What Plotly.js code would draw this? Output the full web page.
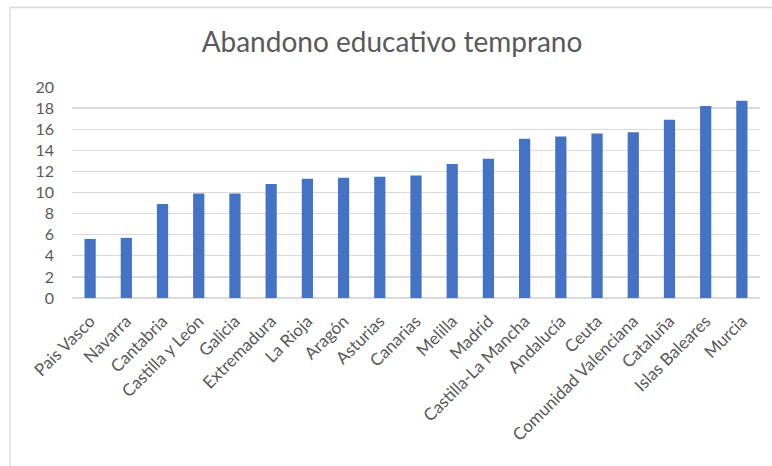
<!DOCTYPE html>
<html>
<head>
<meta charset="utf-8">
<script src="https://cdn.plot.ly/plotly-3.0.1.min.js"></script>
<style>html,body{margin:0;padding:0;background:#fff;}#chart{width:772px;height:466px;}</style>
</head>
<body>
<div id="chart"></div>
<script>
const regions = ["Pais Vasco","Navarra","Cantabria","Castilla y León","Galicia","Extremadura","La Rioja","Aragón","Asturias","Canarias","Melilla","Madrid","Castilla-La Mancha","Andalucía","Ceuta","Comunidad Valenciana","Cataluña","Islas Baleares","Murcia"];
const values = [5.6,5.7,8.9,9.9,9.9,10.8,11.3,11.4,11.5,11.6,12.7,13.2,15.1,15.3,15.6,15.7,16.9,18.2,18.7];
const yTicks = [0,2,4,6,8,10,12,14,16,18,20];
const chartTitle = "Abandono educativo temprano";

const FONT = "Lato, 'Open Sans', sans-serif";
const GREY = "#595959";
const GRID = "#d9d9d9";

const W = 772, H = 466, ML = 72, MR = 12, MT = 87, MB = 168;
const PW = W - ML - MR, PH = H - MT - MB;
const px = x => (x - ML) / PW;
const py = y => (H - MB - y) / PH;

const trace = {
  type: "bar",
  x: regions,
  y: values,
  marker: {color: "#4472C4", line: {width: 0}},
  hoverinfo: "none"
};

const layout = {
  width: W, height: H,
  margin: {l: ML, r: MR, t: MT, b: MB, pad: 0},
  paper_bgcolor: "#fff",
  plot_bgcolor: "#fff",
  showlegend: false,
  bargap: 0.69,
  title: {
    text: chartTitle,
    font: {family: FONT, size: 28, color: GREY},
    x: 392 / W, xref: "container", xanchor: "center",
    y: 1 - 42 / H, yref: "container", yanchor: "middle"
  },
  xaxis: {
    type: "category",
    tickangle: -45,
    tickfont: {family: FONT, size: 17, color: GREY},
    showgrid: false,
    showline: false,
    zeroline: false,
    ticks: "",
    ticklabelstandoff: 9
  },
  yaxis: {
    range: [0, 20],
    tickvals: yTicks,
    ticktext: yTicks.map(String),
    tickfont: {family: FONT, size: 16, color: GREY},
    showgrid: true,
    gridcolor: GRID,
    gridwidth: 1.3,
    zeroline: true,
    zerolinecolor: GRID,
    zerolinewidth: 1.3,
    showline: false,
    ticks: "",
    ticklabelstandoff: 17,
    fixedrange: true
  },
  shapes: [
    {type: "line", xref: "paper", yref: "paper", x0: px(10), x1: px(10), y0: py(7.5), y1: py(470), line: {color: GRID, width: 1.3}},
    {type: "line", xref: "paper", yref: "paper", x0: px(10), x1: px(775), y0: py(7.5), y1: py(7.5), line: {color: GRID, width: 1.3}}
  ]
};

Plotly.newPlot("chart", [trace], layout, {displayModeBar: false, staticPlot: true});
</script>
</body>
</html>
